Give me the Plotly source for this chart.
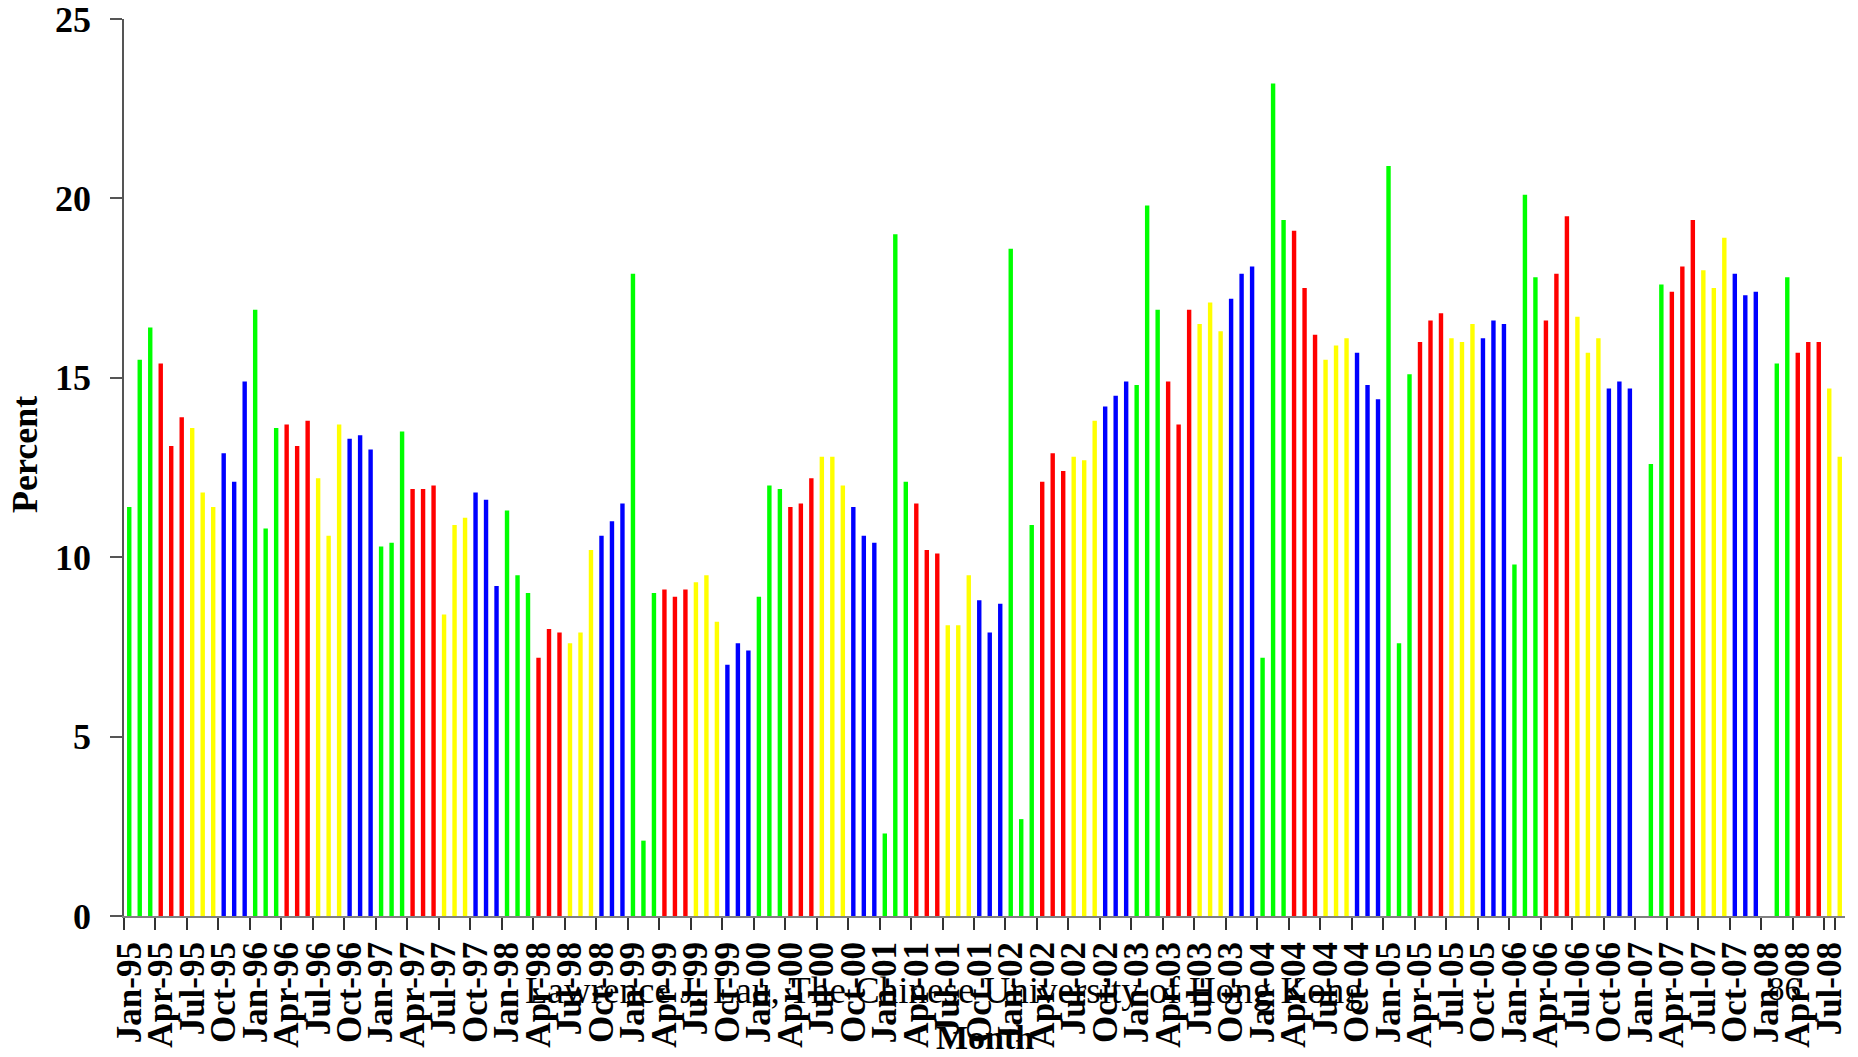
import plotly.graph_objects as go

MONTH_NAMES = ["Jan", "Feb", "Mar", "Apr", "May", "Jun",
               "Jul", "Aug", "Sep", "Oct", "Nov", "Dec"]
YEARS = ["95", "96", "97", "98", "99", "00", "01", "02", "03", "04", "05", "06", "07", "08"]

# Percent values, month by month (None = no bar drawn)
v1995 = [11.4, 15.5, 16.4, 15.4, 13.1, 13.9, 13.6, 11.8, 11.4, 12.9, 12.1, 14.9]
v1996 = [16.9, 10.8, 13.6, 13.7, 13.1, 13.8, 12.2, 10.6, 13.7, 13.3, 13.4, 13.0]
v1997 = [10.3, 10.4, 13.5, 11.9, 11.9, 12.0, 8.4, 10.9, 11.1, 11.8, 11.6, 9.2]
v1998 = [11.3, 9.5, 9.0, 7.2, 8.0, 7.9, 7.6, 7.9, 10.2, 10.6, 11.0, 11.5]
v1999 = [17.9, 2.1, 9.0, 9.1, 8.9, 9.1, 9.3, 9.5, 8.2, 7.0, 7.6, 7.4]
v2000 = [8.9, 12.0, 11.9, 11.4, 11.5, 12.2, 12.8, 12.8, 12.0, 11.4, 10.6, 10.4]
v2001 = [2.3, 19.0, 12.1, 11.5, 10.2, 10.1, 8.1, 8.1, 9.5, 8.8, 7.9, 8.7]
v2002 = [18.6, 2.7, 10.9, 12.1, 12.9, 12.4, 12.8, 12.7, 13.8, 14.2, 14.5, 14.9]
v2003 = [14.8, 19.8, 16.9, 14.9, 13.7, 16.9, 16.5, 17.1, 16.3, 17.2, 17.9, 18.1]
v2004 = [7.2, 23.2, 19.4, 19.1, 17.5, 16.2, 15.5, 15.9, 16.1, 15.7, 14.8, 14.4]
v2005 = [20.9, 7.6, 15.1, 16.0, 16.6, 16.8, 16.1, 16.0, 16.5, 16.1, 16.6, 16.5]
v2006 = [9.8, 20.1, 17.8, 16.6, 17.9, 19.5, 16.7, 15.7, 16.1, 14.7, 14.9, 14.7]
v2007 = [None, 12.6, 17.6, 17.4, 18.1, 19.4, 18.0, 17.5, 18.9, 17.9, 17.3, 17.4]
v2008 = [None, 15.4, 17.8, 15.7, 16.0, 16.0, 14.7, 12.8]

YEAR_VALUES = [v1995, v1996, v1997, v1998, v1999, v2000, v2001,
               v2002, v2003, v2004, v2005, v2006, v2007, v2008]

QUARTER_COLORS = ["#00FF00", "#FF0000", "#FFFF00", "#0000FF"]

categories, values, colors = [], [], []
for yy, vals in zip(YEARS, YEAR_VALUES):
    for m, v in enumerate(vals):
        categories.append(f"{MONTH_NAMES[m]}-{yy}")
        values.append(v)
        colors.append(QUARTER_COLORS[m // 3])

tick_vals = categories[::3]

FONT = "Liberation Serif, Times New Roman, serif"

fig = go.Figure()
fig.add_trace(go.Bar(
    x=categories, y=values,
    marker=dict(color=colors, line=dict(width=0)),
    width=0.42,
    showlegend=False,
))

fig.update_layout(
    width=1858, height=1057,
    margin=dict(l=124, r=13, t=19, b=141, pad=0),
    paper_bgcolor="white", plot_bgcolor="white",
    font=dict(family=FONT, color="black"),
    xaxis=dict(
        type="category",
        categoryorder="array", categoryarray=categories,
        range=[-0.5, len(categories) - 0.5],
        tickmode="array", tickvals=tick_vals, ticktext=tick_vals,
        tickson="boundaries",
        tickangle=-90,
        tickfont=dict(family=FONT, size=35, weight="bold", color="black"),
        ticks="outside", ticklen=12, tickwidth=1.5, tickcolor="#333333",
        ticklabelstandoff=10,
        ticklabeloverflow="allow",
        automargin=False,
        showline=True, linecolor="#808080", linewidth=2,
        showgrid=False, zeroline=False,
    ),
    yaxis=dict(
        range=[0, 25],
        tickmode="array", tickvals=[0, 5, 10, 15, 20, 25],
        tickfont=dict(family=FONT, size=36, weight="bold", color="black"),
        ticks="outside", ticklen=12, tickwidth=1.5, tickcolor="#555555",
        ticklabelstandoff=12,
        ticklabeloverflow="allow",
        automargin=False,
        showline=True, linecolor="#555555", linewidth=1.5,
        showgrid=False, zeroline=False,
    ),
    annotations=[
        dict(text="<b>Percent</b>", xref="paper", yref="paper",
             x=-0.0575, y=0.514, textangle=-90, showarrow=False,
             xanchor="center", yanchor="middle",
             font=dict(family=FONT, size=36, color="black")),
        dict(text="<b>Month</b>", xref="paper", yref="paper",
             x=0.500, y=-0.136, showarrow=False,
             xanchor="center", yanchor="middle",
             font=dict(family=FONT, size=34, color="black")),
        dict(text="Lawrence J. Lau, The Chinese University of Hong Kong",
             xref="paper", yref="paper", x=0.4765, y=-0.0825,
             showarrow=False, xanchor="center", yanchor="middle",
             font=dict(family=FONT, size=37, color="black")),
        dict(text="86", xref="paper", yref="paper", x=0.965, y=-0.0815,
             showarrow=False, xanchor="center", yanchor="middle",
             font=dict(family=FONT, size=33, color="black")),
    ],
)

fig.write_html("out.html", config={"displayModeBar": False},
               post_script="document.body.style.margin='0px';")
